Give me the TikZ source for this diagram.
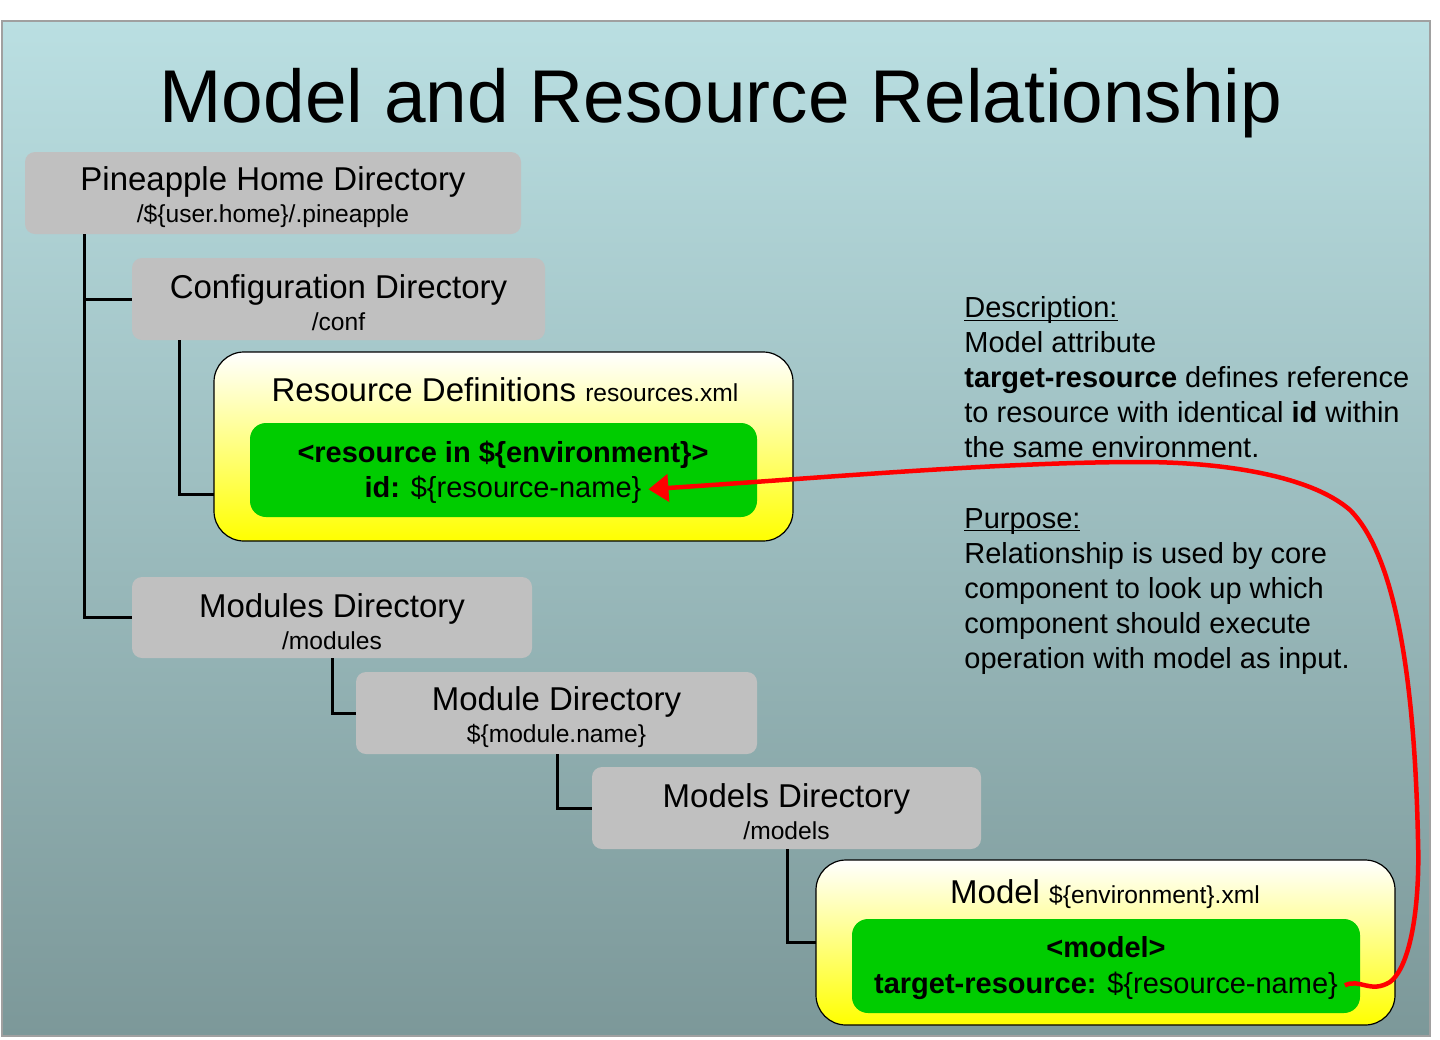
\documentclass[tikz,border=0pt]{standalone}
\usepackage{fontspec}
\setmainfont{Liberation Sans}
\usetikzlibrary{arrows.meta}

\definecolor{bgtop}{RGB}{186,223,226}
\definecolor{bgbottom}{RGB}{124,152,153}
\definecolor{dirgray}{RGB}{192,192,192}
\definecolor{tagfill}{RGB}{0,204,0}
\definecolor{framegray}{RGB}{160,160,160}

\newcommand\titlesize{\fontsize{37.4}{40}\selectfont}
\newcommand\dirsize{\fontsize{16.5}{16}\selectfont}
\newcommand\pathsize{\fontsize{12.3}{15}\selectfont}
\newcommand\notesize{\fontsize{14.5}{17.55}\selectfont}
\newcommand\dirstrut{\rule{0pt}{16pt}}

\begin{document}
\begin{tikzpicture}[
    x=0.5pt, y=-0.5pt,
    dir/.style={fill=dirgray, rounded corners=5pt, anchor=north west, inner sep=0pt, outer sep=0pt, align=center, font=\dirsize},
    file/.style={draw=black, line width=0.6pt, top color=white, bottom color=yellow, rounded corners=15pt, anchor=north west, inner sep=0pt, outer sep=0pt},
    tag/.style={fill=tagfill, rounded corners=8pt, anchor=north west, inner sep=0pt, outer sep=0pt},
    tagline/.style={anchor=base, font=\notesize},
    tree/.style={line width=1.5pt, black},
    ref/.style={-{Triangle[length=10pt,width=13.5pt]}, red, line width=2.25pt}
]
\useasboundingbox (0,0) rectangle (1440,1039);
\shade[top color=bgtop, bottom color=bgbottom, draw=framegray, line width=1pt] (2,21) rectangle (1430,1036);

\node[anchor=base, font=\titlesize] (title) at (721,122) {Model and Resource Relationship};

% directory tree
\node[dir, minimum width=248pt, minimum height=41pt] (home) at (25,152) {\dirstrut Pineapple Home Directory\\{\pathsize /\$\{user.home\}/.pineapple}};
\node[dir, minimum width=206.5pt, minimum height=41pt] (config) at (132,258) {\dirstrut Configuration Directory\\{\pathsize /conf}};
\node[file, minimum width=289.5pt, minimum height=94.5pt] (resdef) at (214,352) {};
\node[anchor=base, font=\dirsize] (resname) at (505,401) {Resource Definitions {\pathsize resources.xml}};
\node[tag, minimum width=253.5pt, minimum height=47pt] (resgreen) at (250,423) {};
\node[tagline] (resline) at (503,462) {\bfseries <resource in \$\{environment\}>};
\node[tagline] (resid) at (503,497) {\textbf{id:} \$\{resource-name\}};
\node[dir, minimum width=200pt, minimum height=40.5pt] (modules) at (132,577) {\dirstrut Modules Directory\\{\pathsize /modules}};
\node[dir, minimum width=200.5pt, minimum height=41pt] (module) at (356,672) {\dirstrut Module Directory\\{\pathsize \$\{module.name\}}};
\node[dir, minimum width=194.5pt, minimum height=41pt] (models) at (592,767) {\dirstrut Models Directory\\{\pathsize /models}};
\node[file, minimum width=289.5pt, minimum height=82.5pt] (model) at (816,860) {};
\node[anchor=base, font=\dirsize] (modelname) at (1105,903) {Model {\pathsize \$\{environment\}.xml}};
\node[tag, minimum width=254pt, minimum height=47pt] (modgreen) at (852,919) {};
\node[tagline] (modline) at (1106,957) {\bfseries <model>};
\node[tagline] (tgtref) at (1106,993) {\textbf{target-resource:} \$\{resource-name\}};

\draw[tree] ([xshift=29.5pt]home.south west) |- (config.west);
\draw[tree] ([xshift=29.5pt]home.south west) |- (modules.west);
\draw[tree] ([xshift=23.5pt]config.south west) |- ([yshift=-23.75pt]resdef.west);
\draw[tree] ([xshift=100pt]modules.south west) |- (module.west);
\draw[tree] ([xshift=100.5pt]module.south west) |- (models.west);
\draw[tree] ([xshift=97.5pt]models.south west) |- (model.west);

% notes
\node[anchor=north west, inner sep=0pt, align=left, font=\notesize] (notes) at (964,317) {\underline{\smash{Description:}}\\
Model attribute\\
\textbf{target-resource} defines reference\\
to resource with identical \textbf{id} within\\
the same environment.\\[17.55pt]
\underline{\smash{Purpose:}}\\
Relationship is used by core\\
component to look up which\\
component should execute\\
operation with model as input.};

% reference from model to resource
\draw[ref] (tgtref.east) .. controls (1360,978) and (1370,994) .. (1390,982)
  .. controls (1412,965) and (1420,900) .. (1418,840)
  .. controls (1415,700) and (1400,560) .. (1350,510)
  .. controls (1310,475) and (1220,462) .. (1140,462)
  .. controls (1000,462) and (820,478) .. (resid.east);
\end{tikzpicture}
\end{document}
